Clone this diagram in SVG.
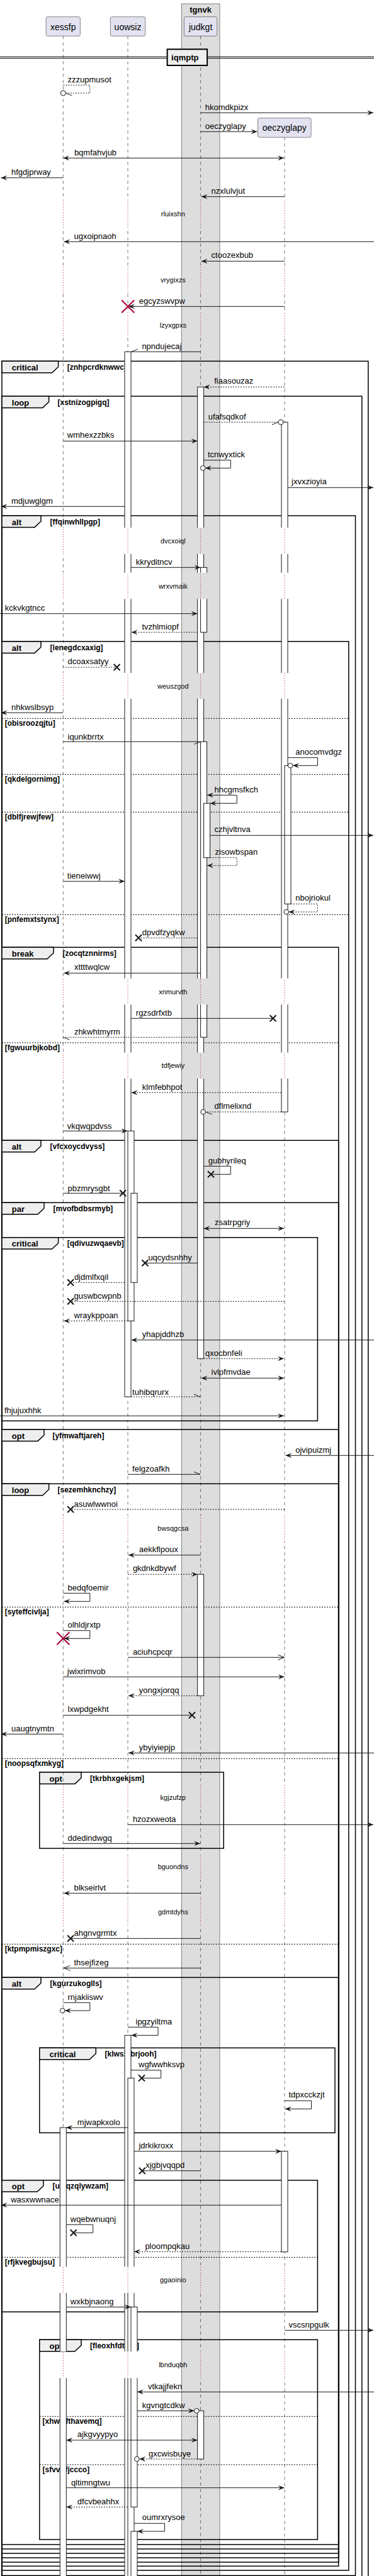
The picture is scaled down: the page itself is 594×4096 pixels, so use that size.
<svg xmlns="http://www.w3.org/2000/svg" width="594" height="4096" viewBox="0 0 594 4096">
<style>
text{font-family:"Liberation Sans",Arial,sans-serif;fill:#000}
.m{font-size:13px}
.p{font-size:14px;text-anchor:middle}
.kw{font-size:13px;font-weight:bold}
.gd{font-size:12px;font-weight:bold}
.dl{font-size:11px;text-anchor:middle}
.ln{fill:none;stroke:#181818;stroke-width:1}
.ds{stroke-dasharray:2,2}
.fr{fill:none;stroke:#000;stroke-width:1.5}
.tab{fill:#EEEEEE;stroke:#000;stroke-width:1.5}
.el{fill:none;stroke:#000;stroke-width:1;stroke-dasharray:2,2}
.life{fill:none;stroke:#181818;stroke-width:0.6;stroke-dasharray:5,5}
.dot{fill:none;stroke:#A80036;stroke-width:1;stroke-dasharray:1,3}
.act{fill:#fff;stroke:#181818;stroke-width:1}
.pb{fill:#E2E2F0;stroke:#181818;stroke-width:0.5}
.ci{fill:#fff;stroke:#181818;stroke-width:1}
</style>
<defs>
<marker id="af" viewBox="0 0 10 8" refX="10" refY="4" markerWidth="10" markerHeight="8" markerUnits="userSpaceOnUse" orient="auto-start-reverse"><path d="M0,0L10,4L0,8L4,4Z" fill="#181818"/></marker>
<marker id="ao" viewBox="-1 -1 12 10" refX="10" refY="4" markerWidth="12" markerHeight="10" markerUnits="userSpaceOnUse" orient="auto"><path d="M0,0L10,4L0,8" fill="none" stroke="#181818" stroke-width="1"/></marker>
<marker id="hu" viewBox="-1 -1 12 10" refX="10" refY="4" markerWidth="12" markerHeight="10" markerUnits="userSpaceOnUse" orient="auto"><path d="M0,0L10,4" fill="none" stroke="#181818" stroke-width="1"/></marker>
<marker id="hd" viewBox="-1 -1 12 10" refX="10" refY="4" markerWidth="12" markerHeight="10" markerUnits="userSpaceOnUse" orient="auto"><path d="M0,8L10,4" fill="none" stroke="#181818" stroke-width="1"/></marker>
<path id="xk" d="M-5,-5L5,5M5,-5L-5,5" fill="none" stroke="#181818" stroke-width="2"/>
<path id="xr" d="M-10,-10L10,10M10,-10L-10,10" fill="none" stroke="#A80036" stroke-width="2"/>
<clipPath id="nd">
<rect x="0" y="0" width="594" height="319"/><rect x="0" y="361" width="594" height="63.3"/><rect x="0" y="466.3" width="594" height="30"/><rect x="0" y="538.3" width="594" height="300.7"/><rect x="0" y="880.7" width="594" height="30"/><rect x="0" y="952.3" width="594" height="117.7"/><rect x="0" y="1111" width="594" height="444.7"/><rect x="0" y="1597.3" width="594" height="76.4"/><rect x="0" y="1715" width="594" height="694"/><rect x="0" y="2451" width="594" height="386"/><rect x="0" y="2879" width="594" height="68"/><rect x="0" y="2989" width="594" height="30"/><rect x="0" y="3061" width="594" height="543.3"/><rect x="0" y="3646" width="594" height="93"/><rect x="0" y="3781.3" width="594" height="400"/>
</clipPath>
<clipPath id="yd">
<rect x="0" y="319" width="594" height="42"/><rect x="0" y="424.3" width="594" height="42"/><rect x="0" y="496.3" width="594" height="42"/><rect x="0" y="839" width="594" height="41.7"/><rect x="0" y="910.7" width="594" height="41.6"/><rect x="0" y="1070" width="594" height="41"/><rect x="0" y="1555.7" width="594" height="41.6"/><rect x="0" y="1673.7" width="594" height="41.3"/><rect x="0" y="2409" width="594" height="42"/><rect x="0" y="2837" width="594" height="42"/><rect x="0" y="2947" width="594" height="42"/><rect x="0" y="3019" width="594" height="42"/><rect x="0" y="3604.3" width="594" height="41.7"/><rect x="0" y="3739" width="594" height="42.3"/>
</clipPath>
</defs>
<rect width="594" height="4096" fill="#fff"/>
<g id="box-tgnvk">
<rect x="288.2" y="6" width="60.8" height="4100" fill="#DDDDDD" stroke="#181818" stroke-width="0.5"/>
<text class="kw" x="318.6" y="19.5" text-anchor="middle">tgnvk</text>
</g>
<g id="frames">
<g id="f-critical1"><rect class="fr" x="3" y="574.3" width="581.8" height="3535.7"/><polygon class="tab" points="3,574.3 92.6,574.3 92.6,583.3 82.6,592.7 3,592.7"/><text class="kw" x="18.8" y="589">critical</text><text class="gd" x="106.8" y="588">[znhpcrdknwwc]</text></g>
<g id="f-loop1"><rect class="fr" x="3" y="630" width="571.8" height="3480"/><polygon class="tab" points="3,630 77.7,630 77.7,639 67.7,648.4 3,648.4"/><text class="kw" x="18.8" y="644.7">loop</text><text class="gd" x="91.5" y="643.7">[xstnizogpigq]</text></g>
<g id="f-alt1"><rect class="fr" x="3" y="820" width="561.5" height="3275.3"/><polygon class="tab" points="3,820 65,820 65,829 55,838.4 3,838.4"/><text class="kw" x="18.8" y="834.7">alt</text><text class="gd" x="79.6" y="833.7">[ffqinwhllpgp]</text></g>
<g id="f-alt2"><rect class="fr" x="3" y="1020" width="550.8" height="3067"/><polygon class="tab" points="3,1020 65,1020 65,1029 55,1038.4 3,1038.4"/><text class="kw" x="18.8" y="1034.7">alt</text><text class="gd" x="79.6" y="1033.7">[lenegdcxaxig]</text>
<path class="el" d="M3,1142.3H553.8M3,1231.3H553.8M3,1291.3H553.8M3,1454.3H553.8"/>
<text class="gd" x="7.7" y="1154.3">[obisroozqjtu]</text><text class="gd" x="7.7" y="1243.3">[qkdelgornimg]</text><text class="gd" x="7.7" y="1303.3">[dblfjrewjfew]</text><text class="gd" x="7.7" y="1466.3">[pnfemxtstynx]</text></g>
<g id="f-break"><rect class="fr" x="3" y="1506.3" width="534.7" height="2574"/><polygon class="tab" points="3,1506.3 85,1506.3 85,1515.3 75,1524.7 3,1524.7"/><text class="kw" x="18.8" y="1521">break</text><text class="gd" x="99.5" y="1520">[zocqtznnirms]</text>
<path class="el" d="M3,1658H537.7"/><text class="gd" x="7.7" y="1670">[fgwuurbjkobd]</text></g>
<g id="f-alt3"><rect class="fr" x="3" y="1813.3" width="534.7" height="2260.7"/><polygon class="tab" points="3,1813.3 65,1813.3 65,1822.3 55,1831.7 3,1831.7"/><text class="kw" x="18.8" y="1828">alt</text><text class="gd" x="79.6" y="1827">[vfcxoycdvyss]</text></g>
<g id="f-par"><rect class="fr" x="3" y="1912.3" width="534.7" height="2154.7"/><polygon class="tab" points="3,1912.3 70,1912.3 70,1921.3 60,1930.7 3,1930.7"/><text class="kw" x="18.8" y="1927">par</text><text class="gd" x="84.6" y="1926">[mvofbdbsrmyb]</text></g>
<g id="f-critical2"><rect class="fr" x="3" y="1967.7" width="501.4" height="291.6"/><polygon class="tab" points="3,1967.7 92.6,1967.7 92.6,1976.7 82.6,1986.1 3,1986.1"/><text class="kw" x="18.8" y="1982.4">critical</text><text class="gd" x="106.8" y="1981.4">[qdivuzwqaevb]</text></g>
<g id="f-opt1"><rect class="fr" x="3" y="2273" width="534.7" height="1787"/><polygon class="tab" points="3,2273 70,2273 70,2282 60,2291.4 3,2291.4"/><text class="kw" x="18.8" y="2287.7">opt</text><text class="gd" x="83.4" y="2286.7">[yfmwaftjareh]</text></g>
<g id="f-loop2"><rect class="fr" x="3" y="2359.3" width="534.7" height="1693.7"/><polygon class="tab" points="3,2359.3 77.7,2359.3 77.7,2368.3 67.7,2377.7 3,2377.7"/><text class="kw" x="18.8" y="2374">loop</text><text class="gd" x="91.5" y="2373">[sezemhknchzy]</text>
<path class="el" d="M3,2555.3H537.7M3,2796.3H537.7M3,3091.3H537.7"/>
<text class="gd" x="7.7" y="2567.3">[syteffcivlja]</text><text class="gd" x="7.7" y="2808.3">[noopsqfxmkyg]</text><text class="gd" x="7.7" y="3103.3">[ktpmpmiszgxc]</text></g>
<g id="f-opt2"><rect class="fr" x="62.8" y="2818" width="292.4" height="121"/><polygon class="tab" points="62.8,2818 129,2818 129,2827 119,2836.4 62.8,2836.4"/><text class="kw" x="78.5" y="2832.7">opt</text><text class="gd" x="143.1" y="2831.7">[tkrbhxgekjsm]</text></g>
<g id="f-alt4"><rect class="fr" x="3" y="3144.3" width="534.7" height="901.7"/><polygon class="tab" points="3,3144.3 65,3144.3 65,3153.3 55,3162.7 3,3162.7"/><text class="kw" x="18.8" y="3159">alt</text><text class="gd" x="79.6" y="3158">[kgurzukoglls]</text></g>
<g id="f-critical3"><rect class="fr" x="62.8" y="3256.3" width="469.2" height="135"/><polygon class="tab" points="62.8,3256.3 152.3,3256.3 152.3,3265.3 142.3,3274.7 62.8,3274.7"/><text class="kw" x="78.5" y="3271">critical</text><text class="gd" x="166.5" y="3270">[klwsxtbrjooh]</text></g>
<g id="f-opt3"><rect class="fr" x="3" y="3466.7" width="501.4" height="209.3"/><polygon class="tab" points="3,3466.7 69,3466.7 69,3475.7 59,3485.1 3,3485.1"/><text class="kw" x="18.8" y="3481.4">opt</text><text class="gd" x="83.4" y="3480.4">[uslqzqlywzam]</text>
<path class="el" d="M3,3589.3H504.4"/><text class="gd" x="7.7" y="3601.3">[rfjkvegbujsu]</text></g>
<g id="f-opt4"><rect class="fr" x="62.8" y="3720.3" width="441.6" height="317.7"/><polygon class="tab" points="62.8,3720.3 129,3720.3 129,3729.3 119,3738.7 62.8,3738.7"/><text class="kw" x="78.5" y="3735">opt</text><text class="gd" x="143.1" y="3734">[fleoxhfdtcyz]</text>
<path class="el" d="M62.8,3842.3H504.4M62.8,3919H504.4"/><text class="gd" x="67.5" y="3854.3">[xhwwfthavemq]</text><text class="gd" x="67.5" y="3931">[sfvvtffjccco]</text></g>
</g>
<g id="lifelines">
<g clip-path="url(#nd)">
<path class="life" d="M100.3,57.3V4096M203,57.3V4096M318.6,57.3V4096M452,218.3V4096"/>
</g>
<g clip-path="url(#yd)">
<path class="dot" d="M100.3,57.3V4096M203,57.3V4096M318.6,57.3V4096M452,218.3V4096"/>
</g>
</g>
<g id="divider-iqmptp">
<path d="M0,90.3H594M0,92.7H594" stroke="#000" stroke-width="1" fill="none"/>
<rect x="265.6" y="78.3" width="63.5" height="25.7" fill="#EEEEEE" stroke="#000" stroke-width="2"/>
<text class="kw" x="272.1" y="96">iqmptp</text>
</g>
<g id="p-xessfp"><rect class="pb" x="73.1" y="26.7" width="54.3" height="30.6" rx="2.5"/><text class="p" x="100.3" y="47.5">xessfp</text></g>
<g id="p-uowsiz"><rect class="pb" x="175.3" y="26.7" width="55.5" height="30.6" rx="2.5"/><text class="p" x="203" y="47.5">uowsiz</text></g>
<g id="p-judkgt"><rect class="pb" x="292.4" y="26.7" width="52.4" height="30.6" rx="2.5"/><text class="p" x="318.6" y="47.5">judkgt</text></g>
<g id="p-oeczyglapy"><rect class="pb" x="409.5" y="187.7" width="84.6" height="30.6" rx="2.5"/><text class="p" x="451.8" y="208.4">oeczyglapy</text></g>
<g id="activations" clip-path="url(#nd)">
<rect class="act" x="198" y="559.3" width="10" height="1661.7"/>
<rect class="act" x="203" y="1798.3" width="10" height="302"/>
<rect class="act" x="208" y="1897.3" width="10" height="142"/>
<rect class="act" x="198" y="3236.3" width="10" height="900"/>
<rect class="act" x="203" y="3304.3" width="10" height="832"/>
<rect class="act" x="208" y="3668.3" width="10" height="318"/>
<rect class="act" x="208" y="4025" width="10" height="111"/>
<rect class="act" x="313.6" y="615.3" width="10" height="1545"/>
<rect class="act" x="318.6" y="902.3" width="10" height="103"/>
<rect class="act" x="318.6" y="1179.3" width="10" height="470"/>
<rect class="act" x="323.6" y="1277.3" width="10" height="86.4"/>
<rect class="act" x="313.6" y="2503.3" width="10" height="193"/>
<rect class="act" x="313.6" y="3833.3" width="10" height="76.7"/>
<rect class="act" x="447" y="671.3" width="10" height="1096.7"/>
<rect class="act" x="452" y="1217.3" width="10" height="220"/>
<rect class="act" x="447" y="3420.7" width="10" height="160"/>
<rect class="act" x="95.3" y="3383" width="10" height="753"/>
</g>
<g id="delays">
<text class="dl" x="274.8" y="344">rluixshn</text>
<text class="dl" x="274.8" y="449.3">vrygixzs</text>
<text class="dl" x="274.8" y="521.3">lzyxgpxs</text>
<text class="dl" x="274.8" y="863.9">dvcxoiql</text>
<text class="dl" x="274.8" y="935.5">wrxvmaik</text>
<text class="dl" x="274.8" y="1094.5">weuszgod</text>
<text class="dl" x="274.8" y="1580.5">xnmurvth</text>
<text class="dl" x="274.8" y="1698.4">tdfjewiy</text>
<text class="dl" x="274.8" y="2434">bwsqgcsa</text>
<text class="dl" x="274.8" y="2862">kgjzufzp</text>
<text class="dl" x="274.8" y="2972">bguondns</text>
<text class="dl" x="274.8" y="3044">gdmtdyhs</text>
<text class="dl" x="274.8" y="3629.2">ggaoinio</text>
<text class="dl" x="274.8" y="3764.2">lbnduqbh</text>
</g>
<g id="connectors">
<path class="ln ds" d="M100.3,135.3H142.8V148H104.3" marker-end="url(#hu)"/><circle class="ci" cx="100.3" cy="148" r="4"/><text class="m" x="107.5" y="131">zzzupmusot</text>
<path class="ln" d="M318.6,179.3H593" marker-end="url(#af)"/><text class="m" x="325.7" y="174.5">hkomdkpizx</text>
<path class="ln" d="M318.6,209.3H408.5" marker-end="url(#af)"/><text class="m" x="325.7" y="205">oeczyglapy</text>
<path class="ln" d="M100.3,251.3H451" marker-start="url(#af)" marker-end="url(#af)"/><text class="m" x="117.9" y="247">bqmfahvjub</text>
<path class="ln" d="M100.3,282.7H1.5" marker-end="url(#af)"/><text class="m" x="18" y="277.5">hfgdjprway</text>
<path class="ln" d="M452,312.7H319.6" marker-end="url(#af)"/><text class="m" x="335.6" y="308">nzxlulvjut</text>
<path class="ln" d="M594,384.3H101.4" marker-end="url(#af)"/><text class="m" x="117.5" y="380">ugxoipnaoh</text>
<path class="ln" d="M452,415.3H319.6" marker-end="url(#af)"/><text class="m" x="335.6" y="410">ctoozexbub</text>
<path class="ln" d="M452,487.3H204" marker-end="url(#af)"/><use href="#xr" x="203.2" y="487.3"/><text class="m" x="220.8" y="483">egcyzswvpw</text>
<path class="ln" d="M318.6,559.3H208.6" marker-end="url(#hd)"/><text class="m" x="225.4" y="555">npndujecaj</text>
<path class="ln ds" d="M452,615.3H323.6" marker-end="url(#af)"/><text class="m" x="340.2" y="610">fiaasouzaz</text>
<path class="ln ds" d="M323.6,671.3H442" marker-end="url(#hd)"/><circle class="ci" cx="446" cy="671.3" r="4"/><text class="m" x="330.7" y="667">ufafsqdkof</text>
<path class="ln" d="M100.3,701.3H313.6" marker-end="url(#af)"/><text class="m" x="106.8" y="696">wmhexzzbks</text>
<path class="ln" d="M323.6,731.7H366.3V744.3H326" marker-end="url(#af)"/><circle class="ci" cx="322.2" cy="744.3" r="3.8"/><text class="m" x="329.9" y="727">tcnwyxtick</text>
<path class="ln" d="M457,775.3H593" marker-end="url(#af)"/><text class="m" x="463.1" y="770">jxvxzioyia</text>
<path class="ln" d="M198,805.3H1.5" marker-end="url(#af)"/><text class="m" x="18" y="801">mdjuwglgm</text>
<path class="ln" d="M208,902.3H318.6" marker-end="url(#af)"/><text class="m" x="215.8" y="898">kkryditncv</text>
<path class="ln" d="M0,975.7H313.6" marker-end="url(#af)"/><text class="m" x="7.7" y="970.5">kckvkgtncc</text>
<path class="ln ds" d="M313.6,1005.3H208.6" marker-end="url(#af)"/><text class="m" x="225.4" y="1000.8">tvzhlmiopf</text>
<path class="ln ds" d="M100.3,1061H185.6"/><use href="#xk" x="185.6" y="1061"/><text class="m" x="107.5" y="1056">dcoaxsatyy</text>
<path class="ln" d="M100.3,1133.3H1.5" marker-end="url(#af)"/><text class="m" x="18" y="1129">nhkwslbsyp</text>
<path class="ln" d="M100.3,1179.3H318.6" marker-end="url(#hd)"/><text class="m" x="107.5" y="1175.5">iqunkbrrtx</text>
<path class="ln" d="M457,1204.7H504.4V1217.3H465" marker-end="url(#af)"/><circle class="ci" cx="461.2" cy="1217.3" r="3.8"/><text class="m" x="469.2" y="1200">anocomvdgz</text>
<path class="ln" d="M329,1264.3H376.2V1277.3H333.6" marker-start="url(#af)" marker-end="url(#af)"/><text class="m" x="340.6" y="1259.5">hhcgmsfkch</text>
<path class="ln" d="M333.6,1328.3H593" marker-end="url(#af)"/><text class="m" x="340.6" y="1323">czhjvltnva</text>
<path class="ln ds" d="M333.6,1363.7H376.2V1376.3H329" marker-end="url(#af)"/><text class="m" x="341.4" y="1359">zisowbspan</text>
<path class="ln" d="M100.3,1401.3H198" marker-end="url(#af)"/><text class="m" x="106.8" y="1396.5">tieneiwwj</text>
<path class="ln ds" d="M462,1437.3H504.4V1450H458.5" marker-end="url(#af)"/><circle class="ci" cx="454.7" cy="1450" r="3.8"/><text class="m" x="469.2" y="1432">nbojriokul</text>
<path class="ln ds" d="M313.6,1491.3H220"/><use href="#xk" x="220" y="1491.3"/><text class="m" x="225.8" y="1487">dpvdfzyqkw</text>
<path class="ln" d="M318.6,1547.3H101.4" marker-end="url(#af)"/><text class="m" x="117.9" y="1542">xttttwqlcw</text>
<path class="ln" d="M208,1619.3H433.6"/><use href="#xk" x="433.6" y="1619.3"/><text class="m" x="215.8" y="1614.5">rgzsdrfxtb</text>
<path class="ln ds" d="M313.6,1649.3H100.3" marker-end="url(#hu)"/><text class="m" x="117.9" y="1645">zhkwhtmyrm</text>
<path class="ln ds" d="M447,1737.3H208.6" marker-end="url(#af)"/><text class="m" x="225.8" y="1733">klmfebhpot</text>
<path class="ln ds" d="M447,1768H326.6" marker-end="url(#hu)"/><circle class="ci" cx="322.6" cy="1768" r="3.8"/><text class="m" x="340.6" y="1763">dflmelixnd</text>
<path class="ln" d="M100.3,1798.3H202.5" marker-end="url(#af)"/><text class="m" x="106.8" y="1794.5">vkqwqpdvss</text>
<path class="ln" d="M323.6,1854.3H366.3V1867.3H335"/><use href="#xk" x="335" y="1867.3"/><text class="m" x="330.7" y="1849.5">gubhyrileq</text>
<path class="ln" d="M100.3,1897.3H195.2"/><use href="#xk" x="195.2" y="1897.3"/><text class="m" x="107.5" y="1893.5">pbzmrysgbt</text>
<path class="ln" d="M323.6,1953.3H451" marker-start="url(#af)" marker-end="url(#af)"/><text class="m" x="341" y="1948">zsatrpgriy</text>
<path class="ln" d="M313.6,2008.3H230.4"/><use href="#xk" x="230.4" y="2008.3"/><text class="m" x="235.4" y="2004">uqcydsnhhy</text>
<path class="ln ds" d="M198,2039.3H112.1"/><use href="#xk" x="112.1" y="2039.3"/><text class="m" x="117.9" y="2034.5">djdmlfxqil</text>
<path class="ln ds" d="M452,2069.3H112.1"/><use href="#xk" x="112.1" y="2069.3"/><text class="m" x="117.5" y="2065">guswbcwpnb</text>
<path class="ln ds" d="M203,2100.3H101.4" marker-end="url(#af)"/><text class="m" x="117.5" y="2095.5">wraykppoan</text>
<path class="ln" d="M594,2130.7H208.6" marker-end="url(#af)"/><text class="m" x="225.8" y="2126">yhapjddhzb</text>
<path class="ln ds" d="M323.6,2160.3H450.8" marker-end="url(#af)"/><text class="m" x="326.1" y="2156">qxocbnfeli</text>
<path class="ln" d="M319.6,2191.3H451" marker-start="url(#af)" marker-end="url(#af)"/><text class="m" x="335.6" y="2186">ivlpfmvdae</text>
<path class="ln ds" d="M208,2221H318" marker-end="url(#hu)"/><text class="m" x="210.1" y="2217.5">tuhibqrurx</text>
<path class="ln" d="M0,2251.3H450.8" marker-end="url(#af)"/><text class="m" x="6.9" y="2247">fhjujuxhhk</text>
<path class="ln" d="M594,2314.3H453.5" marker-end="url(#af)"/><text class="m" x="469.2" y="2310">ojvipuizmj</text>
<path class="ln" d="M203,2344.3H318" marker-end="url(#hu)"/><text class="m" x="210.1" y="2340">felgzoafkh</text>
<path class="ln ds" d="M452,2400H112.1"/><use href="#xk" x="112.1" y="2400"/><text class="m" x="117.5" y="2395.5">asuwlwwnoi</text>
<path class="ln" d="M318.6,2472.7H204" marker-end="url(#af)"/><text class="m" x="220.8" y="2468">aekkflpoux</text>
<path class="ln ds" d="M203,2503.3H313.6" marker-end="url(#af)"/><text class="m" x="210.9" y="2498">gkdnkdbywf</text>
<path class="ln" d="M100.3,2533.3H142.8V2546.3H101.4" marker-end="url(#af)"/><text class="m" x="107.5" y="2529">bedqfoemir</text>
<path class="ln" d="M100.3,2592.7H142.8V2605.3H101.4" marker-end="url(#af)"/><use href="#xr" x="100.3" y="2605.3"/><text class="m" x="107.5" y="2588">olhldjrxtp</text>
<path class="ln" d="M203,2635.3H451.6" marker-end="url(#ao)"/><text class="m" x="210.9" y="2631">aciuhcpcqr</text>
<path class="ln" d="M100.3,2666.3H451.6" marker-end="url(#af)"/><text class="m" x="106.8" y="2661.5">jwixrimvob</text>
<path class="ln ds" d="M313.6,2696.3H204" marker-end="url(#af)"/><text class="m" x="220.8" y="2692">yongxjorqq</text>
<path class="ln" d="M100.3,2727.3H305"/><use href="#xk" x="305" y="2727.3"/><text class="m" x="107.5" y="2722">lxwpdgekht</text>
<path class="ln" d="M100.3,2757.3H1.5" marker-end="url(#af)"/><text class="m" x="18" y="2753">uaugtnymtn</text>
<path class="ln" d="M594,2787.3H204" marker-end="url(#af)"/><text class="m" x="220.8" y="2783">ybyiyiepjp</text>
<path class="ln" d="M203,2901.3H593" marker-end="url(#af)"/><text class="m" x="210.9" y="2896.5">hzozxweota</text>
<path class="ln" d="M100.3,2931.3H318" marker-end="url(#af)"/><text class="m" x="107.5" y="2927">ddedindwgq</text>
<path class="ln" d="M318.6,3010.3H101.4" marker-end="url(#af)"/><text class="m" x="117.5" y="3005.5">blkseirlvt</text>
<path class="ln" d="M318.6,3082.3H112.1"/><use href="#xk" x="112.1" y="3082.3"/><text class="m" x="117.5" y="3077.5">ahgnvgrmtx</text>
<path class="ln" d="M318.6,3129.3H101.4" marker-end="url(#ao)"/><text class="m" x="117.5" y="3124.5">thsejfizeg</text>
<path class="ln" d="M100.3,3184.3H142.8V3197H103" marker-end="url(#af)"/><circle class="ci" cx="99.2" cy="3197" r="3.8"/><text class="m" x="107.5" y="3180">rnjakiiswv</text>
<path class="ln" d="M203,3223.3H251V3236.3H208.5" marker-end="url(#af)"/><text class="m" x="215.5" y="3218.5">ipgzyiltma</text>
<path class="ln" d="M208,3291.7H255.7V3304.3H225"/><use href="#xk" x="225" y="3304.3"/><text class="m" x="220" y="3287">wgfwwhksvp</text>
<path class="ln" d="M452,3340.3H494.5V3353.3H452.8" marker-end="url(#af)"/><text class="m" x="458.5" y="3335">tdpxcckzjt</text>
<path class="ln" d="M203,3383H105.3" marker-end="url(#af)"/><text class="m" x="122.8" y="3378.5">mjwapkxolo</text>
<path class="ln" d="M213,3420.7H447" marker-end="url(#af)"/><text class="m" x="220.4" y="3416">jdrkikroxx</text>
<path class="ln" d="M318.6,3451.7H225.8"/><use href="#xk" x="225.8" y="3451.7"/><text class="m" x="231.2" y="3446.5">xjgbjvqqpd</text>
<path class="ln" d="M447,3506.3H1.5" marker-end="url(#af)"/><text class="m" x="17.2" y="3502">wasxwwnace</text>
<path class="ln" d="M105.3,3537.3H147.7V3550.3H116.7"/><use href="#xk" x="116.7" y="3550.3"/><text class="m" x="111.8" y="3532.5">wqebwnuqnj</text>
<path class="ln ds" d="M447,3580.3H213" marker-end="url(#af)"/><text class="m" x="230.4" y="3576">ploompqkau</text>
<path class="ln" d="M105.3,3668.3H208" marker-end="url(#af)"/><text class="m" x="111.8" y="3664">wxkbjnaong</text>
<path class="ln" d="M452,3705.3H593" marker-end="url(#af)"/><text class="m" x="458.5" y="3701">vscsnpgulk</text>
<path class="ln" d="M594,3803.3H218" marker-end="url(#af)"/><text class="m" x="235" y="3799">vtkajjfekn</text>
<path class="ln" d="M218,3833.3H308.5" marker-end="url(#af)"/><circle class="ci" cx="312.3" cy="3833.3" r="3.8"/><text class="m" x="225.8" y="3828.5">kgvngtcdkw</text>
<path class="ln" d="M105.3,3880H313.6" marker-start="url(#af)" marker-end="url(#af)"/><text class="m" x="122.8" y="3875">ajkgvyypyo</text>
<path class="ln ds" d="M313.6,3910H221.2" marker-end="url(#af)"/><circle class="ci" cx="217.4" cy="3910" r="3.8"/><text class="m" x="236.1" y="3906">gxcwisbuye</text>
<path class="ln" d="M105.3,3955.7H451.6" marker-end="url(#af)"/><text class="m" x="112.9" y="3952">qltimngtwu</text>
<path class="ln ds" d="M203,3986.3H105.3" marker-end="url(#af)"/><text class="m" x="122.8" y="3982">dfcvbeahhx</text>
<path class="ln" d="M213,4012.3H261.4V4025H218" marker-end="url(#af)"/><text class="m" x="225.8" y="4007">oumrxrysoe</text>
</g>
</svg>
